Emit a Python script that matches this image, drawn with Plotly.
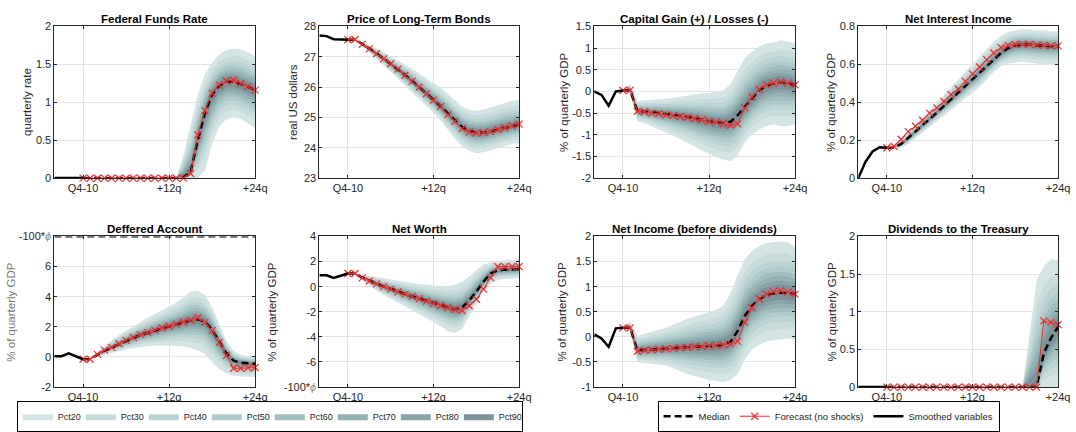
import plotly.graph_objects as go
from statistics import NormalDist

# ---------------- data ----------------
HIST_Q = [-4, -3, -2, -1, 0]
FCST_Q = [0, 1, 2, 3, 4, 5, 6, 7, 8, 9, 10, 11, 12, 13, 14, 15, 16, 17, 18, 19, 20, 21, 22, 23, 24]
X_TICKS = [0, 12, 24]
X_TICK_LABELS = ["Q4-10", "+12q", "+24q"]
X_RANGE = [-4, 24]

BAND_NAMES = ["Pct20", "Pct30", "Pct40", "Pct50", "Pct60", "Pct70", "Pct80", "Pct90"]
BAND_COVERAGE = [0.9, 0.8, 0.7, 0.6, 0.5, 0.4, 0.3, 0.2]

TITLES = ["Federal Funds Rate", "Price of Long-Term Bonds", "Capital Gain (+) / Losses (-)",
          "Net Interest Income", "Deffered Account", "Net Worth",
          "Net Income (before dividends)", "Dividends to the Treasury"]
YLABELS = ["quarterly rate", "real US dollars", "% of quarterly GDP", "% of quarterly GDP",
           "% of quarterly GDP", "% of quarterly GDP", "% of quarterly GDP", "% of quarterly GDP"]

# Federal Funds Rate
ffr_smoothed = [0, 0, 0, 0, 0]
ffr_forecast = [0, 0, 0, 0, 0, 0, 0, 0, 0, 0, 0, 0, 0, 0, 0, 0.06, 0.57, 0.89, 1.12, 1.23, 1.28, 1.29, 1.25, 1.21, 1.16]
ffr_median = [0, 0, 0, 0, 0, 0, 0, 0, 0, 0, 0, 0, 0, 0, 0.01, 0.08, 0.5, 0.86, 1.1, 1.22, 1.27, 1.27, 1.24, 1.2, 1.16]
ffr_upper = [0, 0, 0, 0, 0, 0, 0, 0, 0, 0, 0, 0, 0, 0.0, 0.3, 0.7, 1.1, 1.37, 1.52, 1.63, 1.69, 1.71, 1.7, 1.66, 1.6]
ffr_lower = [0, 0, 0, 0, 0, 0, 0, 0, 0, 0, 0, 0, 0, 0, 0, 0, 0, 0.1, 0.45, 0.68, 0.78, 0.8, 0.78, 0.72, 0.66]

# Price of Long-Term Bonds
bond_smoothed = [27.7, 27.68, 27.58, 27.56, 27.56]
bond_forecast = [27.56, 27.57, 27.41, 27.26, 27.1, 26.93, 26.77, 26.59, 26.39, 26.19, 26.0, 25.78, 25.57,
                 25.36, 25.09, 24.87, 24.63, 24.52, 24.48, 24.5, 24.53, 24.6, 24.66, 24.73, 24.78]
bond_median = [27.56, 27.57, 27.42, 27.27, 27.11, 26.94, 26.77, 26.59, 26.4, 26.2, 26.0, 25.79, 25.58,
               25.36, 25.12, 24.9, 24.68, 24.55, 24.5, 24.5, 24.54, 24.6, 24.66, 24.72, 24.77]
bond_upper = [27.56, 27.57, 27.48, 27.38, 27.27, 27.15, 27.02, 26.88, 26.74, 26.6, 26.45, 26.3, 26.15,
              25.98, 25.78, 25.55, 25.35, 25.25, 25.22, 25.25, 25.32, 25.4, 25.48, 25.55, 25.58]
bond_lower = [27.56, 27.57, 27.35, 27.15, 26.93, 26.72, 26.5, 26.28, 26.05, 25.82, 25.6, 25.38, 25.15,
              24.9, 24.6, 24.3, 24.05, 23.9, 23.82, 23.85, 23.92, 24.0, 24.07, 24.12, 24.15]

# Capital Gain / Losses
cg_smoothed = [0.0, -0.08, -0.33, 0.0, 0.02]
cg_forecast = [0.02, 0.03, -0.46, -0.47, -0.5, -0.52, -0.54, -0.56, -0.58, -0.6, -0.63, -0.66, -0.69,
               -0.71, -0.74, -0.78, -0.75, -0.38, -0.13, 0.05, 0.15, 0.19, 0.22, 0.19, 0.15]
cg_median = [0.02, 0.03, -0.45, -0.46, -0.48, -0.5, -0.52, -0.54, -0.56, -0.59, -0.62, -0.65, -0.68,
             -0.72, -0.73, -0.7, -0.55, -0.35, -0.15, 0.03, 0.13, 0.18, 0.21, 0.19, 0.15]
cg_upper = [0.02, 0.17, -0.22, -0.21, -0.2, -0.19, -0.17, -0.15, -0.12, -0.09, -0.07, -0.05, -0.04,
            -0.01, 0.02, 0.17, 0.47, 0.77, 0.92, 1.03, 1.11, 1.13, 1.18, 1.15, 1.11]
cg_lower = [0.02, -0.05, -0.69, -0.73, -0.8, -0.88, -0.95, -1.03, -1.1, -1.18, -1.27, -1.36, -1.44,
            -1.52, -1.57, -1.61, -1.48, -1.18, -0.99, -0.88, -0.8, -0.76, -0.8, -0.8, -0.76]

# Net Interest Income
nii_smoothed = [0.0, 0.086, 0.14, 0.163, 0.16]
nii_forecast = [0.16, 0.168, 0.205, 0.245, 0.274, 0.305, 0.343, 0.37, 0.404, 0.44, 0.47, 0.51, 0.55,
                0.586, 0.625, 0.66, 0.688, 0.7, 0.705, 0.705, 0.705, 0.703, 0.7, 0.697, 0.697]
nii_median = [0.16, 0.16, 0.18, 0.21, 0.245, 0.28, 0.31, 0.345, 0.38, 0.415, 0.45, 0.485, 0.52,
              0.555, 0.59, 0.625, 0.66, 0.685, 0.7, 0.705, 0.705, 0.7, 0.7, 0.695, 0.695]
nii_upper = [0.16, 0.16, 0.2, 0.24, 0.28, 0.32, 0.36, 0.4, 0.44, 0.48, 0.52, 0.56, 0.6,
             0.64, 0.68, 0.72, 0.75, 0.77, 0.78, 0.785, 0.785, 0.78, 0.78, 0.775, 0.775]
nii_lower = [0.16, 0.16, 0.16, 0.18, 0.21, 0.24, 0.27, 0.3, 0.33, 0.36, 0.39, 0.42, 0.45,
             0.48, 0.52, 0.56, 0.59, 0.605, 0.61, 0.615, 0.61, 0.605, 0.6, 0.6, 0.6]

# Deferred Account
da_smoothed = [0.05, 0.05, 0.24, 0.05, -0.15]
da_forecast = [-0.15, -0.15, 0.17, 0.45, 0.64, 0.88, 1.1, 1.3, 1.48, 1.62, 1.78, 1.92, 2.04,
               2.18, 2.32, 2.45, 2.6, 2.3, 1.75, 0.97, 0.1, -0.75, -0.75, -0.72, -0.7]
da_median = [-0.15, -0.15, 0.15, 0.42, 0.62, 0.85, 1.07, 1.27, 1.45, 1.6, 1.76, 1.9, 2.03,
             2.17, 2.3, 2.43, 2.5, 2.35, 1.8, 1.0, 0.25, -0.25, -0.38, -0.42, -0.45]
da_upper = [-0.15, -0.15, 0.35, 0.75, 1.1, 1.45, 1.75, 2.05, 2.35, 2.6, 2.85, 3.1, 3.3,
            3.6, 3.95, 4.35, 4.4, 4.1, 3.3, 2.2, 1.05, 0.4, 0.15, 0.05, 0.0]
da_lower = [-0.15, -0.15, 0.0, 0.15, 0.3, 0.4, 0.5, 0.6, 0.68, 0.72, 0.75, 0.76, 0.76,
            0.75, 0.72, 0.6, 0.45, 0.2, -0.35, -0.8, -1.1, -1.25, -1.3, -1.32, -1.33]
da_cap = 8  # the "-100*phi" level

# Net Worth
nw_smoothed = [0.9, 0.9, 0.7, 0.85, 1.05]
nw_forecast = [1.05, 1.05, 0.7, 0.45, 0.22, 0.0, -0.2, -0.42, -0.6, -0.78, -0.95, -1.15, -1.35,
               -1.52, -1.68, -1.82, -1.9, -1.52, -1.0, -0.2, 0.72, 1.6, 1.6, 1.6, 1.6]
nw_median = [1.05, 1.05, 0.72, 0.47, 0.24, 0.02, -0.18, -0.4, -0.58, -0.76, -0.94, -1.13, -1.32,
             -1.5, -1.65, -1.8, -1.65, -1.1, -0.4, 0.4, 1.05, 1.3, 1.35, 1.4, 1.4]
nw_upper = [1.05, 1.05, 0.95, 0.85, 0.75, 0.65, 0.55, 0.45, 0.38, 0.3, 0.22, 0.15, 0.08,
            0.05, 0.03, 0.15, 0.4, 0.8, 1.3, 1.75, 1.95, 2.05, 2.1, 2.15, 2.2]
nw_lower = [1.05, 1.05, 0.5, 0.1, -0.3, -0.65, -1.0, -1.3, -1.6, -1.9, -2.2, -2.5, -2.8,
            -3.15, -3.55, -3.7, -3.35, -2.4, -1.4, -0.4, 0.25, 0.5, 0.6, 0.65, 0.67]

# Net Income (before dividends)
ni_smoothed = [0.05, -0.03, -0.2, 0.17, 0.18]
ni_forecast = [0.18, 0.18, -0.29, -0.27, -0.26, -0.25, -0.24, -0.23, -0.22, -0.21, -0.2, -0.19, -0.18,
               -0.17, -0.16, -0.14, -0.09, 0.29, 0.58, 0.76, 0.85, 0.9, 0.92, 0.89, 0.85]
ni_median = [0.18, 0.18, -0.27, -0.26, -0.25, -0.24, -0.23, -0.22, -0.21, -0.2, -0.19, -0.18, -0.18,
             -0.18, -0.15, -0.1, 0.12, 0.42, 0.62, 0.75, 0.83, 0.87, 0.88, 0.87, 0.86]
ni_upper = [0.18, 0.3, 0.02, 0.06, 0.1, 0.14, 0.18, 0.24, 0.3, 0.36, 0.4, 0.45, 0.49,
            0.54, 0.62, 0.87, 1.23, 1.55, 1.71, 1.81, 1.87, 1.89, 1.9, 1.88, 1.8]
ni_lower = [0.18, 0.1, -0.5, -0.52, -0.54, -0.55, -0.57, -0.62, -0.68, -0.74, -0.78, -0.82, -0.86,
            -0.88, -0.9, -0.86, -0.74, -0.45, -0.25, -0.16, -0.09, -0.06, -0.05, -0.03, -0.05]

# Dividends to the Treasury
div_smoothed = [0, 0, 0, 0, 0]
div_forecast = [0, 0, 0, 0, 0, 0, 0, 0, 0, 0, 0, 0, 0, 0, 0, 0, 0, 0, 0, 0, 0, 0, 0.88, 0.86, 0.83]
div_median = [0, 0, 0, 0, 0, 0, 0, 0, 0, 0, 0, 0, 0, 0, 0, 0, 0, 0, 0, 0, 0, 0, 0.45, 0.65, 0.8]
div_upper = [0, 0, 0, 0, 0, 0, 0, 0, 0, 0, 0, 0, 0, 0, 0, 0, 0, 0, 0, 0, 0.7, 1.42, 1.6, 1.7, 1.68]
div_lower = [0, 0, 0, 0, 0, 0, 0, 0, 0, 0, 0, 0, 0, 0, 0, 0, 0, 0, 0, 0, 0, 0, 0, 0, 0]

PHI_LABEL = "-100*<i><span style='color:#8a8a8a'>\u03d5</span></i>"
Y_AXES = [
    ([0, 2], [0, 0.5, 1, 1.5, 2], ["0", "0.5", "1", "1.5", "2"]),
    ([23, 28], [23, 24, 25, 26, 27, 28], ["23", "24", "25", "26", "27", "28"]),
    ([-2, 1.5], [-2, -1.5, -1, -0.5, 0, 0.5, 1, 1.5], ["-2", "-1.5", "-1", "-0.5", "0", "0.5", "1", "1.5"]),
    ([0, 0.8], [0, 0.2, 0.4, 0.6, 0.8], ["0", "0.2", "0.4", "0.6", "0.8"]),
    ([-2, 8], [-2, 0, 2, 4, 6, 8], ["-2", "0", "2", "4", "6", PHI_LABEL]),
    ([-8, 4], [-8, -6, -4, -2, 0, 2, 4], [PHI_LABEL, "-6", "-4", "-2", "0", "2", "4"]),
    ([-1, 2], [-1, -0.5, 0, 0.5, 1, 1.5, 2], ["-1", "-0.5", "0", "0.5", "1", "1.5", "2"]),
    ([0, 2], [0, 0.5, 1, 1.5, 2], ["0", "0.5", "1", "1.5", "2"]),
]

SERIES = [
    (ffr_smoothed, ffr_median, ffr_forecast, ffr_upper, ffr_lower),
    (bond_smoothed, bond_median, bond_forecast, bond_upper, bond_lower),
    (cg_smoothed, cg_median, cg_forecast, cg_upper, cg_lower),
    (nii_smoothed, nii_median, nii_forecast, nii_upper, nii_lower),
    (da_smoothed, da_median, da_forecast, da_upper, da_lower),
    (nw_smoothed, nw_median, nw_forecast, nw_upper, nw_lower),
    (ni_smoothed, ni_median, ni_forecast, ni_upper, ni_lower),
    (div_smoothed, div_median, div_forecast, div_upper, div_lower),
]

# ---------------- style ----------------
W, H = 1076, 432
FONT = "Liberation Sans, Arial, Helvetica, sans-serif"
TXT = "#262626"
RED = "#ee2a2a"
BAND_COLORS = ["#d5e4e4", "#c9dcdc", "#bcd3d3", "#aecaca", "#a1bfbf", "#94b2b4", "#88a4a9", "#7c919a"]
COLS_PX = [(55, 258), (323, 525), (601, 804), (868, 1070)]
ROWS_PX = [(21, 177), (237, 392)]
YLABEL_X_PX = [28, 297, 571, 841, 11, 275, 568, 841]

z_outer = NormalDist().inv_cdf((1 + BAND_COVERAGE[0]) / 2)
BAND_FRAC = [NormalDist().inv_cdf((1 + c) / 2) / z_outer for c in BAND_COVERAGE]

fig = go.Figure()
layout = {}
annotations = []

for i, (hist, med, fc, up, lo) in enumerate(SERIES):
    sfx = "" if i == 0 else str(i + 1)
    xa, ya = "x" + sfx, "y" + sfx
    r, c = divmod(i, 4)
    x0, x1 = COLS_PX[c]
    yt, yb = ROWS_PX[r]
    yr, yv, ytxt = Y_AXES[i]

    # fan bands (outer -> inner)
    for k, (name, col, f) in enumerate(zip(BAND_NAMES, BAND_COLORS, BAND_FRAC)):
        bu = [m + f * (u - m) for m, u in zip(med, up)]
        bl = [m - f * (m - l) for m, l in zip(med, lo)]
        fig.add_trace(go.Scatter(
            x=FCST_Q + FCST_Q[::-1], y=bu + bl[::-1], mode="lines", fill="toself",
            fillcolor=col, line=dict(width=0), name=name, legendgroup=name,
            showlegend=(i == 0), legend="legend", hoverinfo="skip", xaxis=xa, yaxis=ya))

    if i == 4:
        fig.add_trace(go.Scatter(
            x=X_RANGE, y=[da_cap, da_cap], mode="lines",
            line=dict(color="black", width=2, dash="7px,4px"), showlegend=False,
            hoverinfo="skip", xaxis=xa, yaxis=ya))

    fig.add_trace(go.Scatter(
        x=FCST_Q, y=med, mode="lines", line=dict(color="black", width=2.5, dash="7px,4px"),
        name="Median", legendgroup="Median", showlegend=(i == 0), legend="legend2",
        xaxis=xa, yaxis=ya))
    fig.add_trace(go.Scatter(
        x=FCST_Q, y=fc, mode="lines+markers", line=dict(color=RED, width=1),
        marker=dict(symbol="x-thin", size=7, color=RED, line=dict(color=RED, width=1.2)),
        name="Forecast (no shocks)", legendgroup="Forecast", showlegend=(i == 0),
        legend="legend2", xaxis=xa, yaxis=ya, cliponaxis=False))
    fig.add_trace(go.Scatter(
        x=HIST_Q, y=hist, mode="lines", line=dict(color="black", width=2.5),
        name="Smoothed variables", legendgroup="Smoothed", showlegend=(i == 0),
        legend="legend2", xaxis=xa, yaxis=ya))

    layout["xaxis" + sfx] = dict(
        domain=[x0 / W, x1 / W], anchor=ya, range=X_RANGE, tickmode="array",
        tickvals=X_TICKS, ticktext=X_TICK_LABELS, showgrid=True, gridcolor="#e3e3e3",
        gridwidth=1, zeroline=False, showline=True, linecolor=TXT, linewidth=1,
        mirror="ticks", ticks="inside", ticklen=3, tickcolor=TXT,
        tickfont=dict(size=11, color=TXT, family=FONT))
    layout["yaxis" + sfx] = dict(
        domain=[1 - yb / H, 1 - yt / H], anchor=xa, range=yr, tickmode="array",
        tickvals=yv, ticktext=ytxt, showgrid=True, gridcolor="#e3e3e3", gridwidth=1,
        zeroline=False, showline=True, linecolor=TXT, linewidth=1, mirror="ticks",
        ticks="inside", ticklen=3, tickcolor=TXT,
        tickfont=dict(size=11, color=TXT, family=FONT))

    annotations.append(dict(
        text="<b>" + TITLES[i] + "</b>", x=(x0 + x1) / 2 / W, y=1 - (yt - 8) / H,
        xref="paper", yref="paper", xanchor="center", yanchor="middle", showarrow=False,
        font=dict(size=11.5, color="black", family=FONT)))
    annotations.append(dict(
        text=YLABELS[i], x=YLABEL_X_PX[i] / W, y=1 - (yt + yb) / 2 / H, xref="paper",
        yref="paper", xanchor="center", yanchor="middle", textangle=-90, showarrow=False,
        font=dict(size=11.5, color=TXT if i != 4 else "#777777", family=FONT)))

# the left part of the deferred-account axis label is cut off in the original figure
shapes = [dict(type="rect", xref="paper", yref="paper", x0=0, x1=7.5 / W,
               y0=1 - 370 / H, y1=1 - 250 / H, fillcolor="white", line=dict(width=0),
               layer="above")]

fig.update_layout(
    width=W, height=H, margin=dict(l=0, r=0, t=0, b=0),
    paper_bgcolor="white", plot_bgcolor="white",
    font=dict(family=FONT, size=10, color=TXT),
    annotations=annotations, shapes=shapes,
    legend=dict(orientation="h", x=17 / W, xanchor="left", y=1 - 406 / H, yanchor="top",
                bordercolor="black", borderwidth=1, bgcolor="white", traceorder="normal",
                itemwidth=30, entrywidth=18, entrywidthmode="pixels",
                font=dict(size=9, family=FONT, color=TXT)),
    legend2=dict(orientation="h", x=665 / W, xanchor="left", y=1 - 406 / H, yanchor="top",
                 bordercolor="black", borderwidth=1, bgcolor="white", traceorder="normal",
                 itemwidth=30, font=dict(size=9.5, family=FONT, color=TXT)),
    showlegend=True,
    **layout,
)

fig.write_html("out.html")
